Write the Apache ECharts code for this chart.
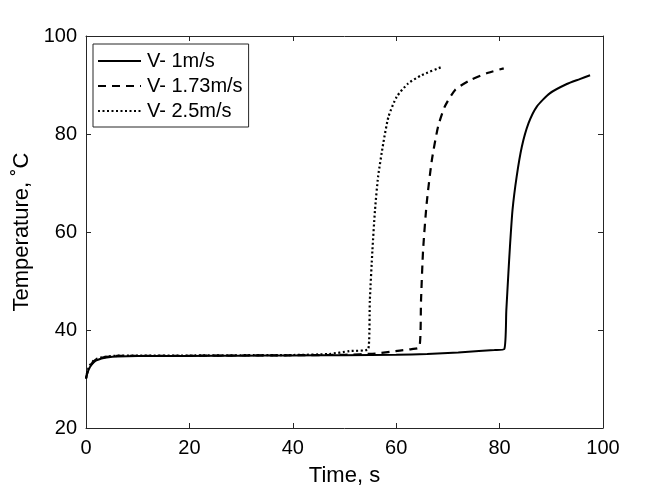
<!DOCTYPE html>
<html><head><meta charset="utf-8">
<script src="https://cdn.jsdelivr.net/npm/echarts@6/dist/echarts.min.js"></script>
<style>html,body{margin:0;padding:0;background:#fff}#c{width:658px;height:494px}</style>
</head><body><div id="c"></div>
<script>
var seriesNames = ['V- 1m/s', 'V- 1.73m/s', 'V- 2.5m/s'];
var xTicks = [0, 20, 40, 60, 80, 100];
var yTicks = [20, 40, 60, 80, 100];

var timeV1 = [0, 0.3, 0.8, 1.5, 2, 3, 4, 6, 10, 20, 30, 40, 50, 60, 66, 72, 76, 79, 80.9, 81.3, 81.7, 82.0, 82.5, 83.3, 84.3, 85.6, 87.2, 89.7, 93.0, 95.5, 97.5];
var tempV1 = [30.1, 31.3, 32.5, 33.4, 33.8, 34.2, 34.4, 34.6, 34.7, 34.7, 34.75, 34.8, 34.85, 34.95, 35.1, 35.4, 35.7, 35.9, 36.1, 44, 51.6, 57, 64.5, 71.3, 77.4, 82.2, 85.6, 88.3, 90.2, 91.2, 92.0];

var timeV2 = [0, 0.3, 0.8, 1.5, 2, 3, 4, 6, 10, 20, 30, 40, 50, 56, 60.7, 63, 64.5, 64.8, 65.2, 65.9, 66.9, 68.1, 69.4, 71.4, 74.3, 77.8, 80.8];
var tempV2 = [30.1, 31.5, 32.7, 33.6, 34.0, 34.3, 34.5, 34.7, 34.75, 34.75, 34.8, 34.85, 34.95, 35.2, 35.8, 36.1, 36.5, 46, 56.3, 65.9, 74.7, 81.5, 85.6, 89.0, 91.0, 92.5, 93.4];

var timeV3 = [0, 0.3, 0.8, 1.5, 2, 3, 4, 6, 10, 20, 30, 40, 47, 51, 54.6, 54.9, 55.4, 55.9, 56.5, 57.5, 58.5, 60.1, 62.3, 64.9, 68.6];
var tempV3 = [30.1, 31.7, 32.9, 33.8, 34.1, 34.4, 34.6, 34.75, 34.8, 34.8, 34.85, 34.9, 35.1, 35.7, 36.1, 46, 56.3, 64.5, 71.3, 78.1, 83.5, 87.6, 90.3, 92.0, 93.6];

function pairs(xs, ys) { return xs.map(function (x, i) { return [x, ys[i]]; }); }

var ink = '#262626';
var font = 'Liberation Sans, Arial, sans-serif';
var chart = echarts.init(document.getElementById('c'));

function mkX(pos, show) {
  return {
    type: 'value', min: xTicks[0], max: xTicks[xTicks.length - 1], interval: 20, position: pos,
    name: show ? 'Time, s' : '', nameLocation: 'middle', nameGap: 37,
    nameTextStyle: { color: '#000', fontSize: 22, fontFamily: font },
    axisLine: { show: true, onZero: false, lineStyle: { color: ink, width: 1 } },
    axisTick: { show: true, inside: true, length: 5, lineStyle: { color: ink } },
    axisLabel: { show: show, color: '#000', fontSize: 20, fontFamily: font, margin: 10 },
    splitLine: { show: false }
  };
}
function mkY(pos, show) {
  return {
    type: 'value', min: yTicks[0], max: yTicks[yTicks.length - 1], interval: 20, position: pos,
    name: show ? 'Temperature, \u02DAC' : '', nameLocation: 'middle', nameGap: 50,
    nameTextStyle: { color: '#000', fontSize: 22, fontFamily: font },
    axisLine: { show: true, onZero: false, lineStyle: { color: ink, width: 1 } },
    axisTick: { show: true, inside: true, length: 5, lineStyle: { color: ink } },
    axisLabel: { show: show, color: '#000', fontSize: 20, fontFamily: font, margin: 9 },
    splitLine: { show: false }
  };
}

var styles = [
  { type: 'solid', width: 2 },
  { type: [8, 6], width: 2.2 },
  { type: [2, 2.5], width: 2.2 }
];
var datas = [pairs(timeV1, tempV1), pairs(timeV2, tempV2), pairs(timeV3, tempV3)];

chart.setOption({
  animation: false,
  backgroundColor: '#fff',
  grid: { left: 86, right: 55, top: 36, bottom: 66 },
  xAxis: [mkX('bottom', true), mkX('top', false)],
  yAxis: [mkY('left', true), mkY('right', false)],
  legend: {
    orient: 'vertical', left: 93, top: 44,
    data: seriesNames,
    backgroundColor: '#fff', borderColor: ink, borderWidth: 1,
    padding: [7, 6, 6, 4], itemGap: 5, itemWidth: 43, itemHeight: 20,
    itemStyle: { opacity: 0 },
    textStyle: { color: '#000', fontSize: 20, fontFamily: font, padding: [0, 0, 0, 1] }
  },
  series: seriesNames.map(function (n, i) {
    return {
      name: n, type: 'line', data: datas[i], showSymbol: false, symbol: 'none',
      lineStyle: { color: '#000', type: styles[i].type, width: styles[i].width },
      itemStyle: { color: '#000' }, smooth: 0.2
    };
  })
});
</script></body></html>
